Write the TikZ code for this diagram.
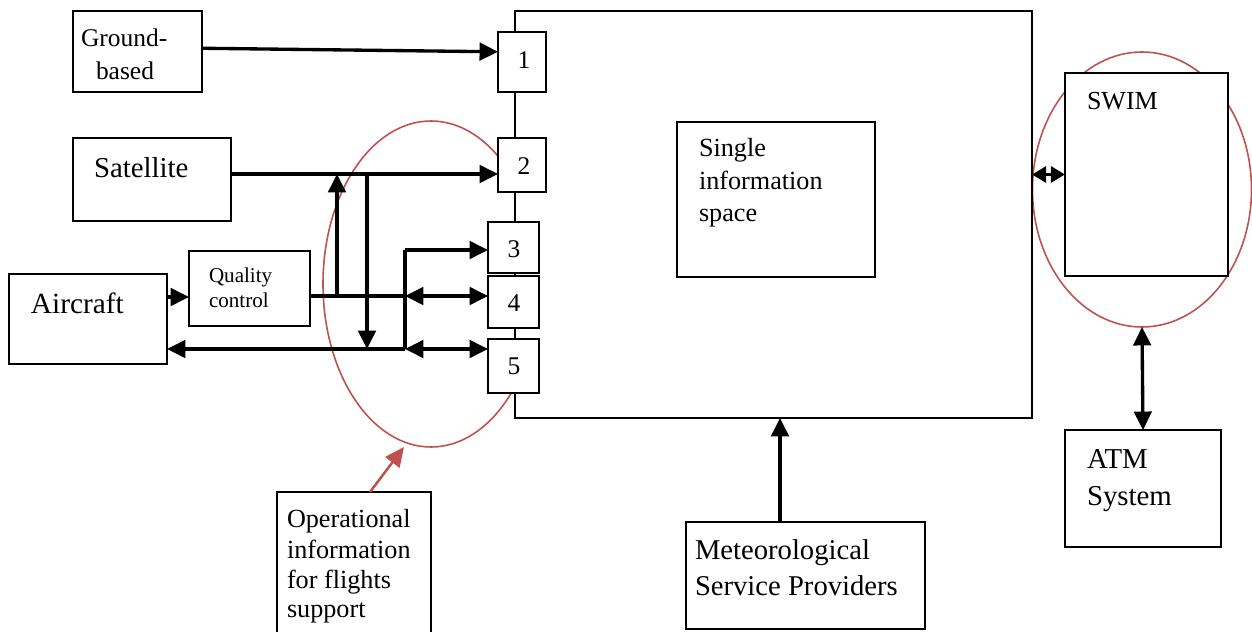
\documentclass[tikz,border=0pt]{standalone}
\usepackage{fontspec}
\setmainfont{Liberation Serif}
\usetikzlibrary{arrows.meta,shapes.geometric,calc}
\definecolor{myred}{RGB}{192,80,77}
\newcommand\mkbox[6][]{\node[box,#1,minimum width={(#5-#3)*0.02cm},minimum height={(#6-#4)*0.02cm}] (#2) at ({(#3+#5)/2},{(#4+#6)/2}) {};}
\newcommand\fs[1]{\fontsize{#1}{#1}\selectfont}
\tikzset{
  box/.style={draw, rectangle, line width=1.15pt, fill=white, inner sep=0pt, outer sep=0pt},
  lbl/.style={anchor=base west, inner sep=0pt, outer sep=0pt},
  num/.style={inner sep=0pt, font=\fs{14.5}},
  conn/.style={line width=1.9pt},
  tip/.tip={Triangle[length=10.5pt,width=10pt]},
  arr/.style={conn, -tip},
  darr/.style={conn, tip-tip},
  redell/.style={draw=myred, line width=0.9pt, ellipse, inner sep=0pt, outer sep=0pt},
}
\begin{document}
\begin{tikzpicture}[x=0.02cm,y=-0.02cm]
\useasboundingbox (0,0) rectangle (1252,632);
\clip (0,0) rectangle (1252,632);
% red ellipses (behind boxes)
\node[redell, minimum width={216*0.02cm}, minimum height={326*0.02cm}] (ell1) at (431,284) {};
\node[redell, minimum width={219*0.02cm}, minimum height={275*0.02cm}] (ell2) at (1142,189.5) {};
% big box
\mkbox{big}{515}{11}{1032}{418}
% small numbered boxes
\mkbox{b1}{498}{32}{546}{92}
\mkbox{b2}{498}{138}{546}{192}
\mkbox{b3}{488}{222}{539}{273}
\mkbox{b4}{488}{276}{539}{328}
\mkbox{b5}{488}{339}{539}{393}
\node[num] (n1) at (524,60) {1};
\node[num] (n2) at (524,166) {2};
\node[num] (n3) at (514,249) {3};
\node[num] (n4) at (514,303) {4};
\node[num] (n5) at (514,366) {5};
% other boxes
\mkbox{ground}{73}{11}{202}{92}
\mkbox{sat}{73}{138}{231}{221}
\mkbox{qc}{189}{251}{310}{326}
\mkbox{air}{9}{274}{167}{364}
\mkbox{sis}{677}{122}{875}{277}
\mkbox{swim}{1065}{73}{1228}{276}
\mkbox{atm}{1065}{430}{1221}{547}
\mkbox{met}{686}{522}{925}{629}
\mkbox{oper}{277}{492}{431}{660}
% texts
\node[lbl, font=\fs{14.5}] (tg1) at (81,47) {Ground-};
\node[lbl, font=\fs{14.5}] (tg2) at (96,79) {based};
\node[lbl, font=\fs{16.4}] (ts) at (94,177) {Satellite};
\node[lbl, font=\fs{16.7}] (ta) at (31,313) {Aircraft};
\node[lbl, font=\fs{12}] (tq1) at (209,282) {Quality};
\node[lbl, font=\fs{12}] (tq2) at (209,307) {control};
\node[lbl, font=\fs{14.9}] (ti1) at (699,156) {Single};
\node[lbl, font=\fs{14.9}] (ti2) at (699,189) {information};
\node[lbl, font=\fs{14.9}] (ti3) at (699,221) {space};
\node[lbl, font=\fs{14.8}] (tw) at (1087,109) {SWIM};
\node[lbl, font=\fs{16.4}] (tt1) at (1087,468) {ATM};
\node[lbl, font=\fs{16.4}] (tt2) at (1087,505) {System};
\node[lbl, font=\fs{16.3}] (tm1) at (695,559) {Meteorological};
\node[lbl, font=\fs{16.3}] (tm2) at (695,595) {Service Providers};
\node[lbl, font=\fs{14.9}] (to1) at (287,527) {Operational};
\node[lbl, font=\fs{14.9}] (to2) at (287,558) {information};
\node[lbl, font=\fs{14.9}] (to3) at (287,588) {for flights};
\node[lbl, font=\fs{14.9}] (to4) at (287,617) {support};
% junction coordinates
\coordinate (gout) at ($(ground.north east)!0.46!(ground.south east)$);
\coordinate (b1in) at ($(b1.north west)!0.33!(b1.south west)$);
\coordinate (satout) at (231,174);
\coordinate (airout) at (167,297);
\coordinate (qcout) at (310,296);
\coordinate (j3) at (405,250);
\coordinate (j4) at (405,296);
\coordinate (j5) at (405,349);
\coordinate (up1) at (337,296);
\coordinate (dn1) at (367,174);
\coordinate (dn2) at (367,349);
\coordinate (metx) at (780,0);
\coordinate (rtail) at (370,492);
\coordinate (rhead) at (404,447);
% connectors
\draw[arr] (gout) -- (b1in);
\draw[arr] (satout) -- (satout -| b2.west);
\draw[arr] (airout) -- (airout -| qc.west);
\draw[conn] (qcout) -- (j4);
\draw[darr] (j4) -- (j4 -| b4.west);
\draw[arr] (up1) -- (up1 |- satout);
\draw[arr] (dn1) -- (dn2);
\draw[conn] (j3) -- (j5);
\draw[arr] (j3) -- (j3 -| b3.west);
\draw[arr] (j5) -- (j5 -| air.east);
\draw[darr] (j5) -- (j5 -| b5.west);
\draw[conn, {Triangle[length=8pt,width=9pt]}-{Triangle[length=8pt,width=9pt]}] (swim.west -| big.east) -- (swim.west);
\draw[darr] (ell2.south) -- (atm.north);
\draw[arr] (met.north -| metx) -- (big.south -| metx);
\draw[draw=myred, fill=myred, line width=1.4pt, -{Triangle[length=11pt,width=10pt]}] (rtail) -- (rhead);
\end{tikzpicture}
\end{document}
